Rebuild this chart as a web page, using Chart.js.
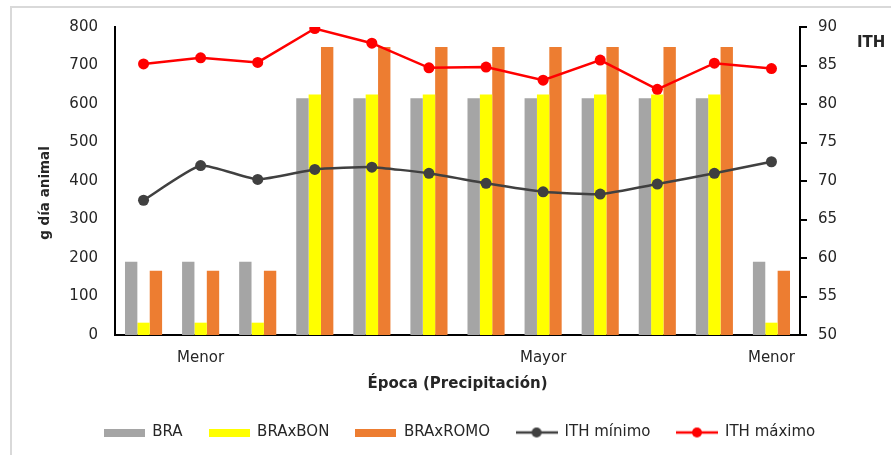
<!DOCTYPE html>
<html>
<head>
<meta charset="utf-8">
<script src="https://cdn.jsdelivr.net/npm/chart.js@4.4.1/dist/chart.umd.min.js"></script>
<style>
  html, body { margin: 0; padding: 0; background: #fff; }
  #frame {
    position: absolute; left: 10px; top: 6px; width: 900px; height: 470px;
    border-top: 2px solid #d9d9d9; border-left: 2px solid #d9d9d9;
  }
  #wrap { position: absolute; left: 0; top: 0; width: 891px; height: 455px; }
</style>
</head>
<body>
<div id="frame"></div>
<div id="wrap"><canvas id="chart"></canvas></div>
<script>
const labels = ["", "Menor", "", "", "", "", "", "Mayor", "", "", "", "Menor"];

const bra      = [190, 190, 190, 615, 615, 615, 615, 615, 615, 615, 615, 190];
const braxbon  = [32, 32, 32, 625, 625, 625, 625, 625, 625, 625, 625, 32];
const braxromo = [167, 167, 167, 748, 748, 748, 748, 748, 748, 748, 748, 167];

const ithMin = [67.5, 72.0, 70.2, 71.5, 71.8, 71.0, 69.7, 68.6, 68.3, 69.6, 71.0, 72.5];
const ithMax = [85.2, 86.0, 85.4, 89.8, 87.9, 84.7, 84.8, 83.1, 85.7, 81.9, 85.3, 84.6];

const FONT = "'DejaVu Sans', sans-serif";
const TXT = "#262626";

function boxIcon(color) {
  const c = document.createElement("canvas");
  c.width = 41; c.height = 8;
  const g = c.getContext("2d");
  g.fillStyle = color;
  g.fillRect(0, 0, 41, 8);
  return c;
}

function lineIcon(color) {
  const c = document.createElement("canvas");
  c.width = 42; c.height = 12;
  const g = c.getContext("2d");
  g.strokeStyle = color;
  g.lineWidth = 2.5;
  g.beginPath();
  g.moveTo(0, 6);
  g.lineTo(42, 6);
  g.stroke();
  g.fillStyle = color;
  g.beginPath();
  g.arc(21, 6, 5, 0, Math.PI * 2);
  g.fill();
  return c;
}

// extra titles: rotated left title and the horizontal "ITH" on the right
const sideTitles = {
  id: "sideTitles",
  afterDraw(chart) {
    const ctx = chart.ctx;
    ctx.save();
    ctx.fillStyle = TXT;
    ctx.font = "bold 13.5px " + FONT;
    ctx.textAlign = "center";
    ctx.textBaseline = "middle";
    ctx.translate(45, 193);
    ctx.rotate(-Math.PI / 2);
    ctx.fillText("g día animal", 0, 0);
    ctx.restore();

    ctx.save();
    ctx.fillStyle = TXT;
    ctx.font = "bold 15px " + FONT;
    ctx.textAlign = "left";
    ctx.textBaseline = "middle";
    ctx.fillText("ITH", 857, 43);
    ctx.restore();
  }
};

const icons = [
  boxIcon("#a5a5a5"),
  boxIcon("#ffff00"),
  boxIcon("#ed7d31"),
  lineIcon("#404040"),
  lineIcon("#ff0000")
];

new Chart(document.getElementById("chart"), {
  type: "bar",
  data: {
    labels,
    datasets: [
      { label: "BRA", data: bra, backgroundColor: "#a5a5a5", yAxisID: "y", order: 2 },
      { label: "BRAxBON", data: braxbon, backgroundColor: "#ffff00", yAxisID: "y", order: 2 },
      { label: "BRAxROMO", data: braxromo, backgroundColor: "#ed7d31", yAxisID: "y", order: 2 },
      {
        type: "line", label: "ITH mínimo", data: ithMin, yAxisID: "y2", order: 1,
        borderColor: "#404040", backgroundColor: "#404040", borderWidth: 2.5,
        pointRadius: 5.5, pointBackgroundColor: "#404040", pointBorderWidth: 0, tension: 0.15
      },
      {
        type: "line", label: "ITH máximo", data: ithMax, yAxisID: "y2", order: 1,
        borderColor: "#ff0000", backgroundColor: "#ff0000", borderWidth: 2.5,
        pointRadius: 5.5, pointBackgroundColor: "#ff0000", pointBorderWidth: 0, tension: 0
      }
    ]
  },
  options: {
    responsive: true,
    maintainAspectRatio: false,
    animation: false,
    datasets: {
      bar: { categoryPercentage: 0.65, barPercentage: 1.0 }
    },
    layout: { padding: { top: 27, left: 28, right: 0, bottom: 5 } },
    plugins: {
      tooltip: { enabled: false },
      legend: {
        position: "bottom",
        labels: {
          usePointStyle: true,
          pointStyleWidth: 41,
          padding: 26,
          color: TXT,
          font: { family: FONT, size: 15 },
          generateLabels: (chart) => chart.data.datasets.map((ds, i) => ({
            text: ds.label,
            pointStyle: icons[i],
            fillStyle: "transparent",
            strokeStyle: "transparent",
            lineWidth: 0,
            fontColor: TXT,
            hidden: false,
            datasetIndex: i
          }))
        }
      }
    },
    scales: {
      x: {
        grid: { display: false, drawTicks: false },
        border: { display: true, color: "#000", width: 2 },
        ticks: {
          autoSkip: false, maxRotation: 0, padding: 14,
          color: TXT, font: { family: FONT, size: 15 }
        },
        title: {
          display: true, text: "Época (Precipitación)", color: TXT,
          font: { family: FONT, size: 15, weight: "bold" },
          padding: { top: 0, bottom: 6 }
        },
        afterFit: (s) => { s.height = 64; }
      },
      y: {
        position: "left",
        min: 0, max: 800,
        grid: { display: false, drawTicks: false },
        border: { display: true, color: "#000", width: 2 },
        ticks: { stepSize: 100, padding: 17, color: TXT, font: { family: FONT, size: 15 } },
        afterFit: (s) => { s.width = 87; }
      },
      y2: {
        position: "right",
        min: 50, max: 90,
        grid: { display: true, drawOnChartArea: false, drawTicks: true, tickLength: 7, color: "#000", lineWidth: 2 },
        border: { display: true, color: "#000", width: 2 },
        ticks: { stepSize: 5, padding: 11, color: TXT, font: { family: FONT, size: 15 } },
        afterFit: (s) => { s.width = 91; }
      }
    }
  },
  plugins: [sideTitles]
});
</script>
</body>
</html>
